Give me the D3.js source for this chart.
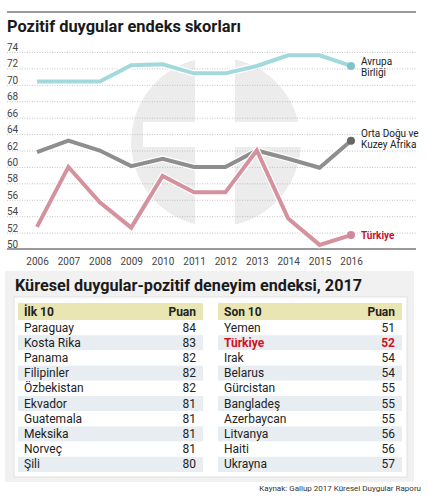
<!DOCTYPE html>
<html>
<head>
<meta charset="utf-8">
<script src="https://cdn.jsdelivr.net/npm/d3@7"></script>
<style>
  body { margin: 0; background: #fff; }
  svg { display: block; font-family: Roboto, "Noto Sans", sans-serif; }
</style>
</head>
<body>
<svg id="canvas"></svg>
<script>
const YEARS = [2006, 2007, 2008, 2009, 2010, 2011, 2012, 2013, 2014, 2015, 2016];
const Y_TICKS = [50, 52, 54, 56, 58, 60, 62, 64, 66, 68, 70, 72, 74];

// Avrupa Birliği, Orta Doğu ve Kuzey Afrika, Türkiye
const EU_VALUES = [70.4, 70.4, 70.4, 72.4, 72.5, 71.4, 71.4, 72.3, 73.6, 73.6, 72.3];
const MENA_VALUES = [61.8, 63.2, 62.0, 60.1, 61.0, 60.0, 60.0, 62.0, 61.0, 59.9, 63.2];
const TR_VALUES = [52.7, 60.0, 55.7, 52.6, 58.9, 56.9, 56.9, 62.0, 53.7, 50.5, 51.7];

const TOP_COUNTRIES = ["Paraguay", "Kosta Rika", "Panama", "Filipinler", "Özbekistan",
    "Ekvador", "Guatemala", "Meksika", "Norveç", "Şili"];
const TOP_SCORES = [84, 83, 82, 82, 82, 81, 81, 81, 81, 80];
const BOTTOM_COUNTRIES = ["Yemen", "Türkiye", "Irak", "Belarus", "Gürcistan",
    "Bangladeş", "Azerbaycan", "Litvanya", "Haiti", "Ukrayna"];
const BOTTOM_SCORES = [51, 52, 54, 54, 55, 55, 55, 56, 56, 57];

const width = 428;
const height = 499;

const canvas = d3.select("#canvas")
    .attr("width", width)
    .attr("height", height);

//Top rule and title
canvas.append("line")
    .attr("x1", 7).attr("x2", 416)
    .attr("y1", 12).attr("y2", 12)
    .attr("stroke", "#9a9a9a")
    .attr("stroke-width", 2);

canvas.append("text")
    .attr("x", 7).attr("y", 32)
    .attr("font-size", 17)
    .attr("font-weight", 700)
    .attr("fill", "#1a1a1a")
    .attr("textLength", 234)
    .attr("lengthAdjust", "spacingAndGlyphs")
    .text("Pozitif duygular endeks skorları");

//Scales
const xScale = d3.scaleLinear()
    .domain([2006, 2016])
    .range([37, 351]);
const yScale = d3.scaleLinear()
    .domain([50, 74])
    .range([249, 52]);

//Watermark logo behind the chart
const defs = canvas.append("defs");
defs.append("clipPath")
    .attr("id", "logo-clip")
    .append("circle")
    .attr("cx", 216).attr("cy", 142).attr("r", 85);

const logo = canvas.append("g").attr("clip-path", "url(#logo-clip)");
logo.append("circle")
    .attr("cx", 216).attr("cy", 142).attr("r", 85)
    .attr("fill", "#ececec");
logo.append("rect")
    .attr("x", 143).attr("y", 122).attr("width", 159).attr("height", 25)
    .attr("fill", "#fff");
logo.append("rect")
    .attr("x", 195).attr("y", 57).attr("width", 40).attr("height", 170)
    .attr("fill", "#fff");

//Gridlines
const gridAxis = d3.axisRight(yScale)
    .tickValues(Y_TICKS.slice(1))
    .tickSize(409)
    .tickFormat("");
const grid = canvas.append("g")
    .attr("transform", "translate(7, 0)")
    .call(gridAxis);
grid.select(".domain").remove();
grid.selectAll("line")
    .attr("stroke", "#b5b5b5")
    .attr("stroke-width", 0.8)
    .attr("stroke-dasharray", "1,1.5");

//Baseline
canvas.append("line")
    .attr("x1", 7).attr("x2", 416)
    .attr("y1", yScale(50)).attr("y2", yScale(50))
    .attr("stroke", "#9a9a9a")
    .attr("stroke-width", 2);

//Y labels
const yAxis = d3.axisRight(yScale)
    .tickValues(Y_TICKS)
    .tickSize(0)
    .tickPadding(0);
const yg = canvas.append("g")
    .attr("transform", "translate(7, 0)")
    .call(yAxis);
yg.select(".domain").remove();
yg.selectAll("text")
    .attr("dy", "-0.15em")
    .attr("font-size", 10)
    .attr("font-family", "Roboto, sans-serif")
    .attr("fill", "#444");

//X labels
const xAxis = d3.axisBottom(xScale)
    .tickValues(YEARS)
    .tickFormat(d3.format("d"))
    .tickSize(0)
    .tickPadding(9);
const xg = canvas.append("g")
    .attr("transform", `translate(0, ${yScale(50)})`)
    .call(xAxis);
xg.select(".domain").remove();
xg.selectAll("text")
    .attr("font-size", 10)
    .attr("font-family", "Roboto, sans-serif")
    .attr("fill", "#444");

//Lines
const line = d3.line()
    .x((d, i) => xScale(YEARS[i]))
    .y(d => yScale(d));

const series = [
    { values: EU_VALUES, color: "#a3d9dc", dot: "#7ec4c8" },
    { values: MENA_VALUES, color: "#8e8e8e", dot: "#666666" },
    { values: TR_VALUES, color: "#d4929d", dot: "#d0889a" }
];

series.forEach(s => {
    canvas.append("path")
        .attr("d", line(s.values))
        .attr("fill", "none")
        .attr("stroke", "#fff")
        .attr("stroke-width", 6.5)
        .attr("stroke-linejoin", "miter");
    canvas.append("path")
        .attr("d", line(s.values))
        .attr("fill", "none")
        .attr("stroke", s.color)
        .attr("stroke-width", 4)
        .attr("stroke-linejoin", "miter");
    const last = s.values.length - 1;
    canvas.append("circle")
        .attr("cx", xScale(YEARS[last]))
        .attr("cy", yScale(s.values[last]))
        .attr("r", 4)
        .attr("fill", s.dot);
});

//Series labels, one text per line
const labelX = xScale(2016) + 10;
const labels = [
    { lines: ["Avrupa", "Birliği"], y: yScale(EU_VALUES[10]) - 1, color: "#222", weight: 400 },
    { lines: ["Orta Doğu ve", "Kuzey Afrika"], y: yScale(MENA_VALUES[10]) - 4, color: "#222", weight: 400 },
    { lines: ["Türkiye"], y: yScale(TR_VALUES[10]) + 4, color: "#c8102e", weight: 700 }
];
labels.forEach(l => {
    l.lines.forEach((s, i) => {
        canvas.append("text")
            .attr("x", labelX)
            .attr("y", l.y + i * 11.5)
            .attr("font-size", 10)
            .attr("font-weight", l.weight)
            .attr("fill", l.color)
            .text(s);
    });
});

//Table section
canvas.append("rect")
    .attr("x", 5).attr("y", 271)
    .attr("width", 409).attr("height", 211)
    .attr("fill", "#f1f1f1");

canvas.append("text")
    .attr("x", 15).attr("y", 291)
    .attr("font-size", 17)
    .attr("font-weight", 700)
    .attr("fill", "#1a1a1a")
    .attr("textLength", 347)
    .attr("lengthAdjust", "spacingAndGlyphs")
    .text("Küresel duygular-pozitif deneyim endeksi, 2017");

canvas.append("rect")
    .attr("x", 14).attr("y", 297)
    .attr("width", 393).attr("height", 180)
    .attr("fill", "#fff")
    .attr("stroke", "#dcdcdc")
    .attr("stroke-width", 0.8);

const rowScale = d3.scaleBand()
    .domain(d3.range(10))
    .range([320, 472]);

function drawTable(x0, x1, title, names, scores, highlight) {
    const g = canvas.append("g");
    g.append("rect")
        .attr("x", x0).attr("y", 303)
        .attr("width", x1 - x0).attr("height", 17)
        .attr("fill", "#e9e6b4");
    g.append("text")
        .attr("x", x0 + 6).attr("y", 316)
        .attr("font-size", 12).attr("font-weight", 700)
        .attr("fill", "#222")
        .text(title);
    g.append("text")
        .attr("x", x1 - 7).attr("y", 316)
        .attr("text-anchor", "end")
        .attr("font-size", 12).attr("font-weight", 700)
        .attr("fill", "#222")
        .text("Puan");

    g.selectAll(".row")
        .data(names)
        .enter()
        .append("rect")
        .attr("class", "row")
        .attr("x", x0)
        .attr("y", (d, i) => rowScale(i))
        .attr("width", x1 - x0)
        .attr("height", rowScale.bandwidth())
        .attr("fill", (d, i) => i % 2 === 1 ? "#e8edf1" : "#fff");

    g.selectAll(".name")
        .data(names)
        .enter()
        .append("text")
        .attr("class", "name")
        .attr("x", x0 + 6)
        .attr("y", (d, i) => rowScale(i) + 11.5)
        .attr("font-size", 12)
        .attr("font-weight", d => d === highlight ? 700 : 400)
        .attr("fill", d => d === highlight ? "#d0121f" : "#222")
        .text(d => d);

    g.selectAll(".score")
        .data(scores)
        .enter()
        .append("text")
        .attr("class", "score")
        .attr("x", x1 - 7)
        .attr("y", (d, i) => rowScale(i) + 11.5)
        .attr("text-anchor", "end")
        .attr("font-size", 12)
        .attr("font-weight", (d, i) => names[i] === highlight ? 700 : 400)
        .attr("fill", (d, i) => names[i] === highlight ? "#d0121f" : "#222")
        .text(d => d);
}

drawTable(18, 203, "İlk 10", TOP_COUNTRIES, TOP_SCORES, null);
drawTable(218, 402, "Son 10", BOTTOM_COUNTRIES, BOTTOM_SCORES, "Türkiye");

//Source
canvas.append("text")
    .attr("x", 421).attr("y", 491)
    .attr("text-anchor", "end")
    .attr("font-size", 8)
    .attr("fill", "#333")
    .text("Kaynak: Gallup 2017 Küresel Duygular Raporu");
</script>
</body>
</html>
